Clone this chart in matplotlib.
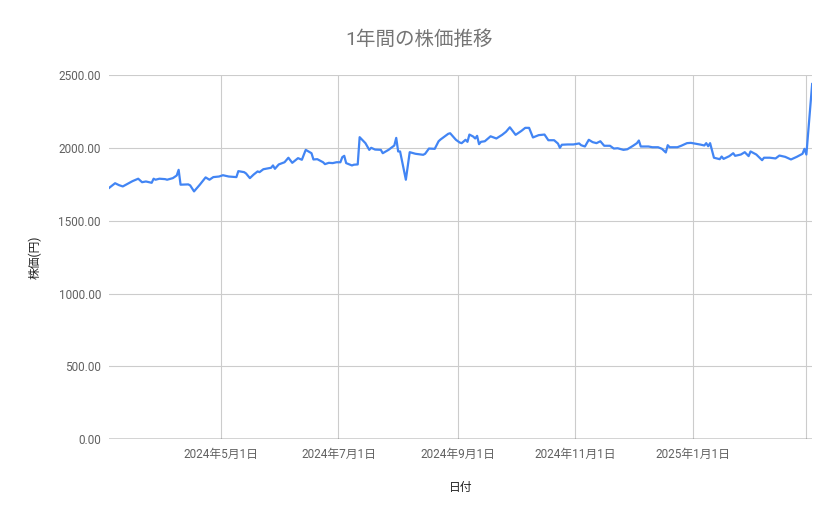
import matplotlib
matplotlib.use("Agg")
import matplotlib.pyplot as plt
import matplotlib.dates as mdates
import pandas as pd

plt.rcParams['font.family'] = ['Roboto', 'Noto Sans CJK JP', 'DejaVu Sans']

# 日付と株価
dates = [
    "2024-03-04", "2024-03-07", "2024-03-09", "2024-03-11", "2024-03-14", "2024-03-16",
    "2024-03-19", "2024-03-21", "2024-03-23", "2024-03-26", "2024-03-27", "2024-03-28",
    "2024-03-30", "2024-04-02", "2024-04-03", "2024-04-06", "2024-04-08", "2024-04-09",
    "2024-04-10", "2024-04-14", "2024-04-15", "2024-04-17", "2024-04-20", "2024-04-23",
    "2024-04-25", "2024-04-27", "2024-04-30", "2024-05-02", "2024-05-05", "2024-05-09",
    "2024-05-10", "2024-05-13", "2024-05-14", "2024-05-16", "2024-05-18", "2024-05-20",
    "2024-05-21", "2024-05-23", "2024-05-26", "2024-05-27", "2024-05-28", "2024-05-29",
    "2024-05-31", "2024-06-03", "2024-06-05", "2024-06-07", "2024-06-10", "2024-06-12",
    "2024-06-14", "2024-06-17", "2024-06-18", "2024-06-20", "2024-06-23", "2024-06-24",
    "2024-06-26", "2024-06-28", "2024-06-30", "2024-07-02", "2024-07-03", "2024-07-04",
    "2024-07-05", "2024-07-08", "2024-07-09", "2024-07-11", "2024-07-12", "2024-07-15",
    "2024-07-17", "2024-07-18", "2024-07-20", "2024-07-23", "2024-07-24", "2024-07-27",
    "2024-07-30", "2024-07-31", "2024-08-01", "2024-08-02", "2024-08-05", "2024-08-07",
    "2024-08-10", "2024-08-14", "2024-08-15", "2024-08-17", "2024-08-20", "2024-08-22",
    "2024-08-23", "2024-08-27", "2024-08-28", "2024-08-31", "2024-09-02", "2024-09-03",
    "2024-09-05", "2024-09-06", "2024-09-07", "2024-09-09", "2024-09-10", "2024-09-11",
    "2024-09-12", "2024-09-13", "2024-09-15", "2024-09-18", "2024-09-21", "2024-09-24",
    "2024-09-26", "2024-09-28", "2024-10-01", "2024-10-04", "2024-10-06", "2024-10-08",
    "2024-10-10", "2024-10-13", "2024-10-16", "2024-10-18", "2024-10-21", "2024-10-23",
    "2024-10-24", "2024-10-25", "2024-10-28", "2024-10-31", "2024-11-03", "2024-11-04",
    "2024-11-06", "2024-11-08", "2024-11-10", "2024-11-12", "2024-11-14", "2024-11-16",
    "2024-11-19", "2024-11-21", "2024-11-23", "2024-11-26", "2024-11-28", "2024-12-01",
    "2024-12-03", "2024-12-04", "2024-12-05", "2024-12-09", "2024-12-11", "2024-12-14",
    "2024-12-16", "2024-12-18", "2024-12-19", "2024-12-20", "2024-12-24", "2024-12-26",
    "2024-12-29", "2024-12-31", "2025-01-03", "2025-01-05", "2025-01-07", "2025-01-08",
    "2025-01-09", "2025-01-10", "2025-01-12", "2025-01-15", "2025-01-16", "2025-01-17",
    "2025-01-20", "2025-01-22", "2025-01-23", "2025-01-26", "2025-01-28", "2025-01-30",
    "2025-01-31", "2025-02-03", "2025-02-06", "2025-02-07", "2025-02-10", "2025-02-13",
    "2025-02-15", "2025-02-18", "2025-02-21", "2025-02-24", "2025-02-27", "2025-02-28",
    "2025-03-01", "2025-03-04",
]
prices = [
    1726, 1757, 1744, 1735, 1757, 1771,
    1788, 1764, 1769, 1760, 1788, 1781,
    1788, 1785, 1781, 1792, 1810, 1849,
    1747, 1749, 1742, 1701, 1747, 1797,
    1781, 1799, 1803, 1812, 1803, 1799,
    1840, 1833, 1824, 1792, 1817, 1838,
    1833, 1853, 1860, 1863, 1879, 1856,
    1886, 1901, 1932, 1897, 1929, 1918,
    1986, 1963, 1920, 1922, 1901, 1888,
    1897, 1895, 1901, 1901, 1936, 1945,
    1895, 1879, 1884, 1886, 2073, 2032,
    1986, 2000, 1988, 1986, 1963, 1986,
    2016, 2068, 1975, 1975, 1781, 1970,
    1959, 1952, 1959, 1995, 1993, 2045,
    2057, 2096, 2100, 2055, 2036, 2032,
    2055, 2041, 2091, 2077, 2064, 2082,
    2025, 2041, 2045, 2079, 2064, 2089,
    2110, 2141, 2089, 2116, 2137, 2137,
    2071, 2087, 2091, 2052, 2052, 2029,
    2000, 2021, 2023, 2023, 2030, 2018,
    2009, 2055, 2039, 2032, 2045, 2014,
    2014, 1995, 1997, 1986, 1990, 2014,
    2032, 2050, 2009, 2009, 2004, 2004,
    1993, 1968, 2018, 2004, 2004, 2014,
    2032, 2034, 2027, 2022, 2016, 2032,
    2011, 2032, 1932, 1922, 1940, 1924,
    1943, 1963, 1945, 1954, 1970, 1943,
    1975, 1954, 1915, 1932, 1932, 1927,
    1947, 1938, 1920, 1938, 1959, 1993,
    1954, 2438,
]
tick_dates = ["2024-05-01", "2024-07-01", "2024-09-01", "2024-11-01", "2025-01-01", "2025-03-01"]
y_ticks = [0, 500, 1000, 1500, 2000, 2500]

x = pd.to_datetime(dates)
ticks = pd.to_datetime(tick_dates)

fig = plt.figure(figsize=(8.39, 5.19), dpi=100)
ax = fig.add_axes([0.1303, 0.1536, 0.8377, 0.702])

ax.plot(x, prices, color='#4285F4', linewidth=1.6, zorder=3)

ax.set_xlim(x[0], x[-1])
ax.set_ylim(0, 2500)
ax.set_yticks(y_ticks)
ax.set_yticklabels([f"{v:.2f}" for v in y_ticks])

# 最後の目盛り(2025年3月1日)はラベルなし
labels = [f"{d.year}年{d.month}月{d.day}日" for d in ticks]
labels[-1] = ""
ax.set_xticks(mdates.date2num(ticks))
ax.set_xticklabels(labels)

ax.grid(True, color='#cccccc', linewidth=0.8)
ax.axhline(0, color='#333333', linewidth=1.0, zorder=4)
for s in ax.spines.values():
    s.set_visible(False)
ax.tick_params(length=0, labelsize=8.5, colors='#616161', pad=6)

fig.text(0.5, 1 - 40 / 519, "1年間の株価推移", ha='center', va='center',
         fontsize=14, color='#757575')
ax.set_xlabel("日付", fontsize=8.5, color='#222222', labelpad=15)
ax.set_ylabel("株価(円)", fontsize=8.5, color='#222222', labelpad=12)

fig.savefig("out.png", dpi=100)
